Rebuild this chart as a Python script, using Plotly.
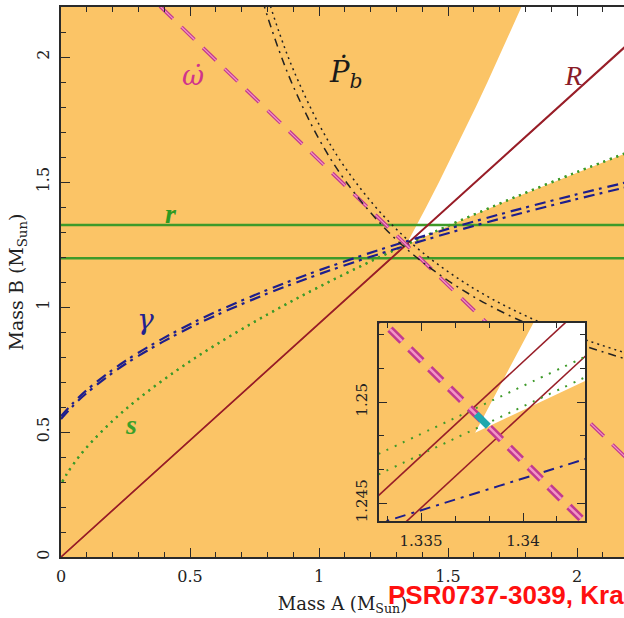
import plotly.graph_objects as go

# ---------------- data (masses in solar masses) ----------------
# gamma (Einstein delay) band
gamma_ma = [0, 0.05, 0.1, 0.2, 0.3, 0.45, 0.6, 0.8, 1.0, 1.25, 1.5, 1.75, 2.0, 2.2]
gamma_lo = [0.5517, 0.6083, 0.6563, 0.7369, 0.8046, 0.8914, 0.9663, 1.0537, 1.131, 1.2174, 1.2951, 1.3662, 1.4319, 1.4813]
gamma_hi = [0.563, 0.6197, 0.6678, 0.7489, 0.8172, 0.9047, 0.9803, 1.0685, 1.1466, 1.2339, 1.3124, 1.3843, 1.4508, 1.5007]
# s (Shapiro shape) band
s_ma = [0.005, 0.02, 0.05, 0.1, 0.2, 0.3, 0.45, 0.6, 0.8, 1.0, 1.25, 1.5, 1.75, 2.0, 2.2]
s_lo = [0.3013, 0.3282, 0.3746, 0.4394, 0.5448, 0.6332, 0.7479, 0.8491, 0.9704, 1.0807, 1.2075, 1.3251, 1.4356, 1.5402, 1.6205]
s_hi = [0.3008, 0.3277, 0.3741, 0.4388, 0.5443, 0.6326, 0.7472, 0.8483, 0.9695, 1.0798, 1.2065, 1.3241, 1.4344, 1.539, 1.6192]
# Pb-dot band
pb_ma = [0.76, 0.8, 0.85, 0.9, 1.0, 1.1, 1.25, 1.4, 1.6, 1.8, 2.0, 2.2]
pb_lo = [2.3022, 2.1633, 2.0128, 1.8832, 1.672, 1.5077, 1.3204, 1.1805, 1.0409, 0.9363, 0.8546, 0.7889]
pb_hi = [2.3873, 2.2425, 2.0856, 1.9505, 1.7304, 1.5594, 1.3645, 1.219, 1.074, 0.9654, 0.8808, 0.8128]
# omega-dot (total mass line)
om_ma = [0.30, 2.20]
om_mb = [2.28708, 0.38708]
# mass ratio R lines
R_ma = [0, 2.2]
R_lo = [0, 2.0555]
R_hi = [0, 2.0513]
# Shapiro range r (horizontal)
r_ma = [0, 2.2]
r_vals = [1.328, 1.195]
# allowed (white) wedge: mass-function limits
mfA_ma = [1.3377, 1.5, 1.75, 2.0, 2.2]
mfA_mb = [1.2485, 1.3239, 1.4342, 1.5388, 1.619]
mfB_mb = [1.2485, 1.3, 1.4, 1.5, 1.6, 1.7, 1.8, 1.9, 2.0, 2.1, 2.2, 2.3]
mfB_ma = [1.3377, 1.3646, 1.4157, 1.4654, 1.514, 1.5614, 1.6078, 1.6532, 1.6977, 1.7414, 1.7844, 1.8266]

# inset (zoom on intersection)
in_ma = [1.3325, 1.3355, 1.338, 1.3405, 1.3435]
in_gamma = [1.243852, 1.244798, 1.245586, 1.246374, 1.247318]
in_s_lo = [1.24723, 1.248656, 1.249843, 1.25103, 1.252453]
in_s_hi = [1.246218, 1.247643, 1.24883, 1.250016, 1.251438]
in_mfA = [1.246034, 1.247459, 1.248646, 1.249832, 1.251254]
in_mfB_mb = [1.2480, 1.2495, 1.2510, 1.2525, 1.2545]
in_mfB_ma = [1.337401, 1.33819, 1.338979, 1.339768, 1.340819]
in_vertex = [1.337654, 1.248482]
in_R_ma = [1.3325, 1.3435]
in_R_lo = [1.244978, 1.255255]
in_R_hi = [1.242424, 1.252680]
in_om_ma = [1.3325, 1.3435]
in_om_mb = [1.25458, 1.24358]
in_blob_ma = [1.33770, 1.33830]
in_blob_mb = [1.24940, 1.24880]

main_ticks = [0, 0.5, 1, 1.5, 2]
main_ticktext = ["0", "0.5", "1", "1.5", "2"]
in_xticks = [1.335, 1.34]
in_xticktext = ["1.335", "1.34"]
in_yticks = [1.245, 1.25]
in_yticktext = ["1.245", "1.25"]

# ---------------- styles ----------------
ORANGE = "#FBC466"
RED = "#981E28"
GREEN = "#3E9A2A"
NAVY = "#1E1E8C"
MAG = "#C23A8E"
PINK = "#F395C6"
BLK = "#222222"
SERIF = "DejaVu Serif"

fig = go.Figure()

def tr(x, y, color, width, dash="solid", xa="x", ya="y", shape="linear", fill=None, fillcolor=None):
    fig.add_trace(go.Scatter(x=x, y=y, mode="lines", xaxis=xa, yaxis=ya,
                             line=dict(color=color, width=width, dash=dash, shape=shape),
                             fill=fill, fillcolor=fillcolor, hoverinfo="skip", showlegend=False))

# ---- main panel ----
wx = mfA_ma + [2.2] + mfB_ma[::-1]
wy = mfA_mb + [2.3] + mfB_mb[::-1]
tr(wx, wy, "rgba(0,0,0,0)", 0, fill="toself", fillcolor="white")
for rv in r_vals:
    tr(r_ma, [rv, rv], GREEN, 2.6)
tr(R_ma, R_lo, RED, 1.6)
tr(R_ma, R_hi, RED, 1.2)
tr(s_ma, s_lo, GREEN, 2.2, dash="2px,5px", shape="spline")
tr(s_ma, s_hi, GREEN, 2.2, dash="2px,5px", shape="spline")
tr(gamma_ma, gamma_lo, NAVY, 2.2, dash="11px,5px,3px,6px", shape="spline")
tr(gamma_ma, gamma_hi, NAVY, 2.2, dash="11px,5px,3px,6px", shape="spline")
tr(om_ma, om_mb, MAG, 3.6, dash="18px,12px")
tr(om_ma, om_mb, PINK, 1.2, dash="18px,12px")
tr(pb_ma, pb_lo, BLK, 1.5, dash="8px,5px,2px,5px", shape="spline")
tr(pb_ma, pb_hi, BLK, 1.5, dash="2px,4px", shape="spline")

# ---- inset ----
iwx = [in_vertex[0]] + in_ma[2:] + [1.3435] + in_mfB_ma[::-1]
iwy = [in_vertex[1]] + in_mfA[2:] + [1.2545] + in_mfB_mb[::-1]
tr(iwx, iwy, "rgba(0,0,0,0)", 0, xa="x2", ya="y2", fill="toself", fillcolor="white")
tr(in_R_ma, in_R_lo, RED, 1.6, xa="x2", ya="y2")
tr(in_R_ma, in_R_hi, RED, 1.6, xa="x2", ya="y2")
tr(in_ma, in_s_lo, GREEN, 2, dash="2px,7px", xa="x2", ya="y2", shape="spline")
tr(in_ma, in_s_hi, GREEN, 2, dash="2px,7px", xa="x2", ya="y2", shape="spline")
tr(in_ma, in_gamma, NAVY, 2, dash="11px,6px,3px,6px", xa="x2", ya="y2", shape="spline")
tr(in_om_ma, in_om_mb, MAG, 7.5, dash="17px,11px", xa="x2", ya="y2")
tr(in_om_ma, in_om_mb, PINK, 2.5, dash="17px,11px", xa="x2", ya="y2")
tr(in_blob_ma, in_blob_mb, "#1FA8AE", 7, xa="x2", ya="y2")

# ---- labels ----
def lab(text, x, y, color, size, family="Liberation Serif"):
    fig.add_annotation(text=text, x=x, y=y, xref="x", yref="y", showarrow=False,
                       font=dict(color=color, size=size, family=family))

lab("<i>\u03c9\u0307</i>", 0.512, 1.925, "#D0338C", 27, SERIF)
lab("<i>P\u0307</i><sub><i>b</i></sub>", 1.105, 1.935, "#1a1a1a", 29, SERIF)
lab("<i>R</i>", 1.984, 1.928, "#8A1C28", 28)
lab("<b><i>r</i></b>", 0.426, 1.375, "#2F9A22", 28)
lab("<i>\u03b3</i>", 0.329, 0.95, "#22228F", 28, SERIF)
lab("<b><i>s</i></b>", 0.271, 0.53, "#3AA02A", 28)

fig.add_annotation(text="<b>PSR0737-3039, Kra</b>", x=(386 - 61) / 563, y=(557 - 595) / 550,
                   xref="paper", yref="paper", xanchor="left", yanchor="middle", showarrow=False,
                   font=dict(color="#FF1010", size=26, family="Liberation Sans"))

axcol = "#2a2a2a"
tickfont = dict(family=SERIF, size=16, color="#222")
minor_main = dict(dtick=0.1, tick0=0, ticks="inside", ticklen=5, tickcolor=axcol, tickwidth=1.1, showgrid=False)
fig.update_layout(
    width=624, height=618,
    margin=dict(l=61, r=0, t=7, b=61, autoexpand=False),
    paper_bgcolor="white", plot_bgcolor=ORANGE,
    xaxis=dict(range=[0, 563 / 258], automargin=False, showgrid=False, zeroline=False, showline=True,
               linecolor=axcol, linewidth=1.5, mirror="ticks", ticks="inside", ticklen=9, tickwidth=1.3,
               tickcolor=axcol, tickvals=main_ticks, ticktext=main_ticktext, tickfont=tickfont,
               ticklabelstandoff=4, minor=minor_main,
               title=dict(text="Mass A (M<sub>Sun</sub>)", font=dict(family=SERIF, size=18, color="#222"),
                          standoff=12)),
    yaxis=dict(range=[0, 2.2], automargin=False, showgrid=False, zeroline=False, showline=True,
               linecolor=axcol, linewidth=1.5, mirror=False, ticks="inside", ticklen=9, tickwidth=1.3,
               tickcolor=axcol, tickvals=main_ticks, ticktext=main_ticktext, tickfont=tickfont,
               tickangle=-90, ticklabelstandoff=4, minor=minor_main,
               title=dict(text="Mass B (M<sub>Sun</sub>)", font=dict(family=SERIF, size=19, color="#222"),
                          standoff=5)),
    yaxis3=dict(range=[0, 2.2], overlaying="y", side="right", anchor="x", automargin=False, showgrid=False,
                zeroline=False, showline=False, ticks="inside", ticklen=9, tickwidth=1.3, tickcolor=axcol,
                tickvals=main_ticks, showticklabels=False, minor=minor_main),
    xaxis2=dict(domain=[(379 - 61) / 563, (585 - 61) / 563], anchor="y2", range=[1.33294, 1.34304],
                automargin=False, showgrid=False, zeroline=False, showline=True, linecolor=axcol,
                linewidth=1.5, mirror="ticks", ticks="inside", ticklen=8, tickwidth=1.3, tickcolor=axcol,
                tickvals=in_xticks, ticktext=in_xticktext, tickfont=dict(family=SERIF, size=15, color="#222"),
                ticklabelstandoff=5,
                minor=dict(dtick=0.005 / 3, tick0=1.335, ticks="inside", ticklen=5, tickcolor=axcol,
                           tickwidth=1.1, showgrid=False)),
    yaxis2=dict(domain=[(557 - 521) / 550, (557 - 323) / 550], anchor="x2", range=[1.24411, 1.25391],
                automargin=False, showgrid=False, zeroline=False, showline=True, linecolor=axcol,
                linewidth=1.5, mirror="ticks", ticks="inside", ticklen=8, tickwidth=1.3, tickcolor=axcol,
                tickvals=in_yticks, ticktext=in_yticktext, tickangle=-90,
                tickfont=dict(family=SERIF, size=15, color="#222"), ticklabelstandoff=4,
                minor=dict(dtick=0.005 / 3, tick0=1.245, ticks="inside", ticklen=5, tickcolor=axcol,
                           tickwidth=1.1, showgrid=False)),
)
fig.write_html("out.html", config={"displayModeBar": False},
               post_script="document.body.style.margin='0';document.body.style.overflow='hidden';")
